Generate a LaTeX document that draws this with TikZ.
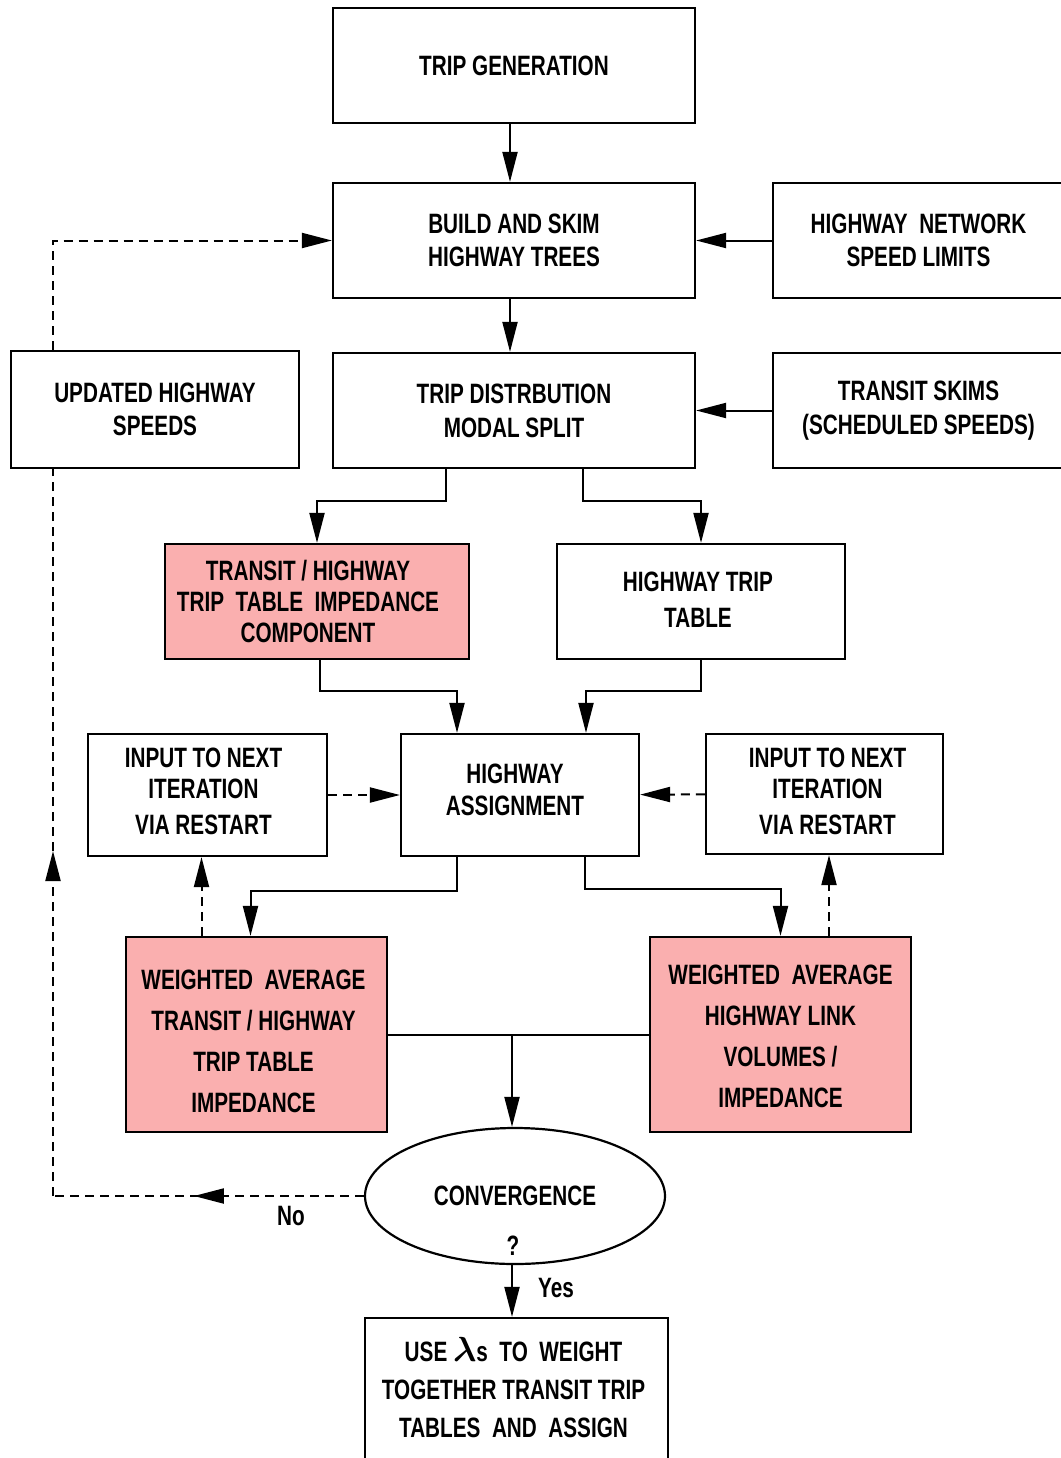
\documentclass[tikz,border=0pt]{standalone}
\usepackage{amsmath}
\usepackage{fontspec}
\setmainfont{Liberation Sans}[FakeStretch=0.74]
\usetikzlibrary{arrows.meta,shapes.geometric,decorations.markings}
\definecolor{pinkfill}{RGB}{250,175,175}
\begin{document}
\begin{tikzpicture}[x=1pt,y=-1pt,
  fs/.style={font=\bfseries\fontsize{28}{#1}\selectfont},
  fs/.default=33,
  box/.style={draw, line width=2.2pt, inner sep=0pt, align=center, fill=white, fs},
  pinkbox/.style={box, fill=pinkfill},
  txt/.style={align=center, inner sep=0pt, fs=#1},
  arr/.style={line width=2pt, -{Triangle[length=30pt,width=15pt]}},
  dline/.style={line width=2pt, dash pattern=on 9pt off 6pt},
  darr/.style={arr, dash pattern=on 9pt off 6pt},
  lbl/.style={fs=30, inner sep=0pt},
  tipmark/.style={postaction={decorate}, decoration={markings,
    mark=at position #1 with {\arrow{Triangle[length=30pt,width=15pt]}}}}
]
\useasboundingbox (0,0) rectangle (1060,1458);

\node[box, minimum width=362pt, minimum height=115pt] (tg) at (514,65.5) {TRIP GENERATION};
\node[box, minimum width=362pt, minimum height=115pt] (build) at (514,240.5) {BUILD AND SKIM\\HIGHWAY TREES};
\node[box, minimum width=291pt, minimum height=115pt] (hnsl) at (918.5,240.5) {HIGHWAY\ \ NETWORK\\SPEED LIMITS};
\node[box, minimum width=288pt, minimum height=117pt] (upd) at (155,409.5) {UPDATED HIGHWAY\\SPEEDS};
\node[box, minimum width=362pt, minimum height=115pt, fs=34] (td) at (514,410.5) {TRIP DISTRBUTION\\MODAL SPLIT};
\node[box, minimum width=291pt, minimum height=115pt, fs=34] (ts) at (918.5,410.5) {TRANSIT SKIMS\\(SCHEDULED SPEEDS)};
\node[pinkbox, minimum width=304pt, minimum height=115pt,
  label={[txt=31, xshift=-9pt]center:{TRANSIT / HIGHWAY\\TRIP\ \ TABLE\ \ IMPEDANCE\\COMPONENT}}] (tt) at (317,601.5) {};
\node[box, minimum width=288pt, minimum height=115pt,
  label={[txt=36, xshift=-3pt, yshift=2pt]center:{HIGHWAY TRIP\\TABLE}}] (htt) at (701,601.5) {};
\node[box, minimum width=239pt, minimum height=122pt,
  label={[txt=31, xshift=-4pt, yshift=4pt]center:{INPUT TO NEXT\\ITERATION\\[5pt]VIA RESTART}}] (inl) at (207.5,795) {};
\node[box, minimum width=238pt, minimum height=122pt,
  label={[txt=32, xshift=-5pt, yshift=5pt]center:{HIGHWAY\\ASSIGNMENT}}] (ha) at (520,795) {};
\node[box, minimum width=237pt, minimum height=120pt,
  label={[txt=31, xshift=3pt, yshift=3pt]center:{INPUT TO NEXT\\ITERATION\\[5pt]VIA RESTART}}] (inr) at (824.5,794) {};
\node[pinkbox, minimum width=261pt, minimum height=195pt,
  label={[txt=41, xshift=-3pt, yshift=-7pt]center:{WEIGHTED\ \ AVERAGE\\TRANSIT / HIGHWAY\\TRIP TABLE\\IMPEDANCE}}] (wal) at (256.5,1034.5) {};
\node[pinkbox, minimum width=261pt, minimum height=195pt,
  label={[txt=41, yshift=-2pt]center:{WEIGHTED\ \ AVERAGE\\HIGHWAY LINK\\VOLUMES /\\IMPEDANCE}}] (war) at (780.5,1034.5) {};
\node[box, ellipse, minimum width=300pt, minimum height=136pt] (conv) at (515,1196) {CONVERGENCE};
\node[lbl] (q) at (513,1246) {?};
\node[box, minimum width=303pt, minimum height=158pt,
  label={[txt=38, xshift=-3pt, yshift=9pt]center:{USE \scalebox{1.4}{$\boldsymbol{\lambda}$}s\ \ TO\ \ WEIGHT\\TOGETHER TRANSIT TRIP\\TABLES\ \ AND\ \ ASSIGN}}] (use) at (516.5,1397) {};
\node[lbl] (yes) at (556,1288) {Yes};
\node[lbl] (no) at (291,1216) {No};

% main flow
\draw[arr] ([xshift=-4pt]tg.south) -- ([xshift=-4pt]build.north);
\draw[arr] (hnsl) -- (build);
\draw[arr] ([xshift=-4pt]build.south) -- ([xshift=-4pt]td.north);
\draw[arr] (ts) -- (td);
\draw[arr] ([xshift=-68pt]td.south) -- ++(0,32) -| (tt.north);
\draw[arr] ([xshift=69pt]td.south) -- ++(0,32) -| (htt.north);
\draw[arr] ([xshift=3pt]tt.south) -- ++(0,31) -| ([xshift=-63pt]ha.north);
\draw[arr] (htt.south) -- ++(0,31) -| ([xshift=66pt]ha.north);
\draw[arr] ([xshift=-63pt]ha.south) -- ++(0,34) -| ([xshift=-6pt]wal.north);
\draw[arr] ([xshift=65pt]ha.south) -- ++(0,32) -| (war.north);
\draw[darr] (inl) -- (ha);
\draw[darr] (inr) -- (ha);
\draw[darr] ([xshift=-6pt]inl.south |- wal.north) -- ([xshift=-6pt]inl.south);
\draw[darr] ([xshift=4.5pt]inr.south |- war.north) -- ([xshift=4.5pt]inr.south);
\draw[line width=2pt] (wal.east) -- (war.west);
\draw[arr] ([xshift=-3pt]wal.east -| conv.north) -- ([xshift=-3pt]conv.north);
\draw[arr] ([xshift=-3pt]conv.south) -- ([xshift=-3pt]conv.south |- use.north);

% feedback loop
\coordinate (cl) at (53,1196);
\draw[dline, tipmark=170pt] (conv.west) -- (cl);
\draw[dline, tipmark=345pt] (cl) -- (cl |- upd.south);
\draw[darr] (cl |- upd.north) -- (cl |- build.west) -- (build.west);
\end{tikzpicture}
\end{document}
